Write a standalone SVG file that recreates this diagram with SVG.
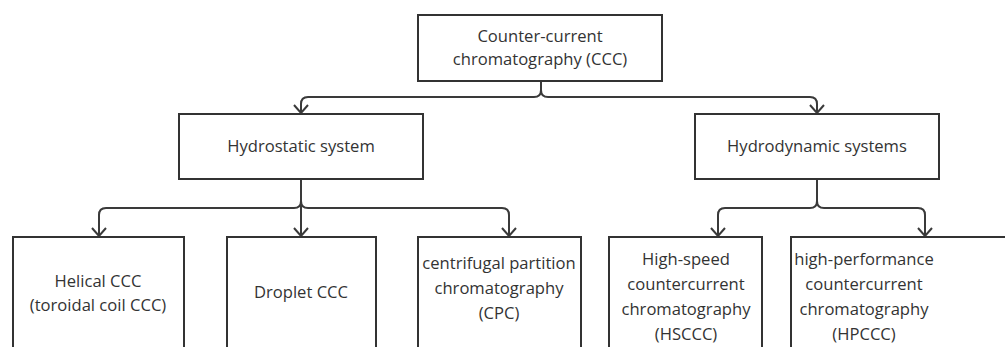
<svg xmlns="http://www.w3.org/2000/svg" width="1005" height="347" viewBox="0 0 1005 347">
<style>
.box{fill:#fff;stroke:#333;stroke-width:2}
.t{font-family:"Open Sans","Noto Sans",sans-serif;font-size:16.6px;fill:#333;text-anchor:middle}
.c{fill:none;stroke:#3a3a3a;stroke-width:2;marker-end:url(#ah)}
</style>
<defs>
<marker id="ah" viewBox="0 0 10 16" refX="9" refY="8" markerWidth="10" markerHeight="16" markerUnits="userSpaceOnUse" orient="auto">
<path d="M1,1 L9,8 L1,15" fill="none" stroke="#3a3a3a" stroke-width="2"/>
</marker>
</defs>
<rect width="1005" height="347" fill="#fff"/>
<g id="connectors">
<path class="c" d="M541,81 L541,90 Q541,97 534,97 L308,97 Q301,97 301,104 L301,113"/>
<path class="c" d="M541,81 L541,90 Q541,97 548,97 L810,97 Q817,97 817,104 L817,113"/>
<path class="c" d="M301,179 L301,201 Q301,208 294,208 L106,208 Q99,208 99,215 L99,236"/>
<path class="c" d="M301,179 L301,236"/>
<path class="c" d="M301,179 L301,201 Q301,208 308,208 L502,208 Q509,208 509,215 L509,236"/>
<path class="c" d="M817,179 L817,201 Q817,208 810,208 L725,208 Q718,208 718,215 L718,236"/>
<path class="c" d="M817,179 L817,201 Q817,208 824,208 L918,208 Q925,208 925,215 L925,236"/>
</g>
<g id="ccc">
<rect class="box" x="418" y="15" width="244" height="66"/>
<text class="t" x="540" y="42">Counter-current</text>
<text class="t" x="540" y="65">chromatography (CCC)</text>
</g>
<g id="hydrostatic">
<rect class="box" x="179" y="114" width="244" height="65"/>
<text class="t" x="301" y="152">Hydrostatic system</text>
</g>
<g id="hydrodynamic">
<rect class="box" x="695" y="114" width="244" height="65"/>
<text class="t" x="817" y="152">Hydrodynamic systems</text>
</g>
<g id="helical">
<rect class="box" x="13" y="237" width="171" height="120"/>
<text class="t" x="98" y="287">Helical CCC</text>
<text class="t" x="98" y="311">(toroidal coil CCC)</text>
</g>
<g id="droplet">
<rect class="box" x="227" y="237" width="149" height="120"/>
<text class="t" x="301" y="298">Droplet CCC</text>
</g>
<g id="cpc">
<rect class="box" x="418" y="237" width="163" height="120"/>
<text class="t" x="499" y="269">centrifugal partition</text>
<text class="t" x="499" y="294">chromatography</text>
<text class="t" x="499" y="319">(CPC)</text>
</g>
<g id="hsccc">
<rect class="box" x="609" y="237" width="153" height="120"/>
<text class="t" x="686" y="265">High-speed</text>
<text class="t" x="686" y="290">countercurrent</text>
<text class="t" x="686" y="315">chromatography</text>
<text class="t" x="686" y="340">(HSCCC)</text>
</g>
<g id="hpccc">
<rect class="box" x="791" y="237" width="230" height="120"/>
<text class="t" x="864" y="265">high-performance</text>
<text class="t" x="864" y="290">countercurrent</text>
<text class="t" x="864" y="315">chromatography</text>
<text class="t" x="864" y="340">(HPCCC)</text>
</g>
</svg>
